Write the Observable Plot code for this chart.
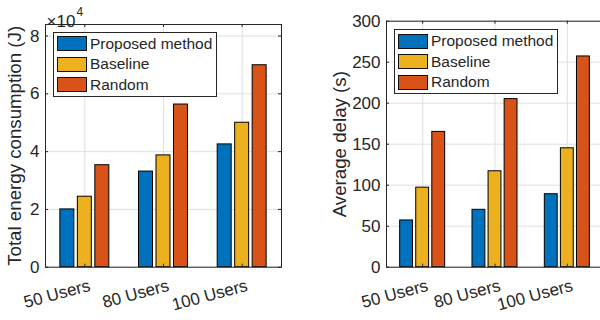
<!DOCTYPE html>
<html>
<head>
<meta charset="utf-8">
<script src="https://cdn.jsdelivr.net/npm/d3@7"></script>
<script src="https://cdn.jsdelivr.net/npm/@observablehq/plot@0.6"></script>
<style>
html, body { margin: 0; padding: 0; overflow: hidden; background: #fff; }
#wrap { position: relative; width: 600px; height: 320px; overflow: hidden;
  font-family: "Liberation Sans", Arial, sans-serif; color: #262626; }
.panel { position: absolute; top: 0; }
.legend { position: absolute; background: #fff; border: 1px solid #262626; box-sizing: border-box;
  width: 164px; height: 65px; font-size: 15.5px; }
.row { position: absolute; left: 3px; height: 16px; display: flex; align-items: center; white-space: nowrap; }
.sw { width: 30px; height: 15px; box-sizing: border-box; border: 1px solid #111; margin-right: 3px; }
</style>
</head>
<body>
<div id="wrap"></div>
<script>
const groups = ["50 Users", "80 Users", "100 Users"];
const series = ["Proposed method", "Baseline", "Random"];
const colors = ["#0072BD", "#EDB120", "#D95319"];

// Total energy consumption, ×10^4 J
const energyProposed = [2.0, 3.31, 4.25];
const energyBaseline = [2.44, 3.87, 5.0];
const energyRandom   = [3.53, 5.63, 6.99];
const energyTicks = [0, 2, 4, 6, 8];

// Average delay, s
const delayProposed = [57, 70, 89];
const delayBaseline = [97, 117, 145];
const delayRandom   = [165, 205, 257];
const delayTicks = [0, 50, 100, 150, 200, 250, 300];

const FONT = "'Liberation Sans', Arial, sans-serif";
const INK = "#262626";
const GRID = "#dfdfdf";

function rows(a, b, c) {
  const out = [];
  [a, b, c].forEach((vals, si) => vals.forEach((v, gi) => out.push({ group: groups[gi], gi, series: series[si], si, value: v })));
  return out;
}
// MATLAB grouped bar geometry: bar spacing 2/9 of a group unit, bar width 0.8 of that
const STEP = 2 / 9, HALF = STEP * 0.8 / 2;

function panel({ data, yDomain, yTicks, width, marginLeft, marginRight, marginTop, marginBottom, yLabel, labelDx, exp }) {
  const height = 320;
  const pw = width - marginLeft - marginRight;
  const ph = height - marginTop - marginBottom;
  const tk = 3;
  const xt = [1, 2, 3];
  const marks = [
    Plot.gridY(yTicks, { stroke: GRID, strokeOpacity: 1 }),
    Plot.gridX(xt, { stroke: GRID, strokeOpacity: 1 }),
    Plot.rect(data, {
      x1: d => d.gi + 1 + (d.si - 1) * STEP - HALF,
      x2: d => d.gi + 1 + (d.si - 1) * STEP + HALF,
      y1: 0, y2: "value",
      fill: d => colors[d.si], stroke: "#000", strokeWidth: 1
    }),
    // inward ticks
    Plot.tickY(yTicks, { y: d => d, stroke: INK, insetRight: pw - tk }),
    Plot.tickY(yTicks, { y: d => d, stroke: INK, insetLeft: pw - tk }),
    Plot.tickX(xt, { x: d => d, stroke: INK, insetTop: ph - tk }),
    Plot.tickX(xt, { x: d => d, stroke: INK, insetBottom: ph - tk }),
    Plot.axisY(yTicks, { tickSize: 0, tickPadding: 6, label: null, fontSize: 17, fill: INK }),
    Plot.axisX(xt, { tickSize: 0, tickPadding: 4, tickRotate: -15, label: null, fontSize: 17, fill: INK,
      dx: 5, dy: 14, tickFormat: d => groups[d - 1] }),
    Plot.frame({ stroke: INK, strokeWidth: 1 }),
    Plot.text([yLabel], { frameAnchor: "left", textAnchor: "middle", dx: labelDx, rotate: -90, fontSize: 18.7, fill: INK })
  ];
  if (exp) {
    marks.push(Plot.text(["×10"], { frameAnchor: "top-left", dx: 1, dy: -10, textAnchor: "start", fontSize: 17, fill: INK }));
    marks.push(Plot.text(["4"], { frameAnchor: "top-left", dx: 31, dy: -17, textAnchor: "start", fontSize: 12, fill: INK }));
  }
  return Plot.plot({
    width, height, marginLeft, marginRight, marginTop, marginBottom,
    style: { fontFamily: FONT, fontSize: "17px", color: INK, background: "transparent", overflow: "visible" },
    x: { type: "linear", domain: [0.5, 3.5], axis: null },
    y: { domain: yDomain, axis: null },
    marks
  });
}

function legend(left, top) {
  const el = document.createElement("div");
  el.className = "legend";
  el.style.left = left + "px";
  el.style.top = top + "px";
  series.forEach((s, i) => {
    const r = document.createElement("div");
    r.className = "row";
    r.style.top = (3 + i * 20.5) + "px";
    const sw = document.createElement("div");
    sw.className = "sw";
    sw.style.background = colors[i];
    const t = document.createElement("span");
    t.textContent = s;
    r.appendChild(sw); r.appendChild(t);
    el.appendChild(r);
  });
  return el;
}

const wrap = document.getElementById("wrap");

const p1 = panel({
  data: rows(energyProposed, energyBaseline, energyRandom),
  yDomain: [0, 8.4], yTicks: energyTicks,
  width: 300, marginLeft: 45, marginRight: 19, marginTop: 24, marginBottom: 53.3,
  yLabel: "Total energy consumption (J)", labelDx: -30, exp: true
});
p1.classList.add("panel");
p1.style.left = "0px";
wrap.appendChild(p1);

const p2 = panel({
  data: rows(delayProposed, delayBaseline, delayRandom),
  yDomain: [0, 300], yTicks: delayTicks,
  width: 320, marginLeft: 86, marginRight: 17, marginTop: 20.7, marginBottom: 53.3,
  yLabel: "Average delay (s)", labelDx: -46, exp: false
});
p2.classList.add("panel");
p2.style.left = "300px";
wrap.appendChild(p2);

wrap.appendChild(legend(53, 31.5));
wrap.appendChild(legend(394, 29));
</script>
</body>
</html>
